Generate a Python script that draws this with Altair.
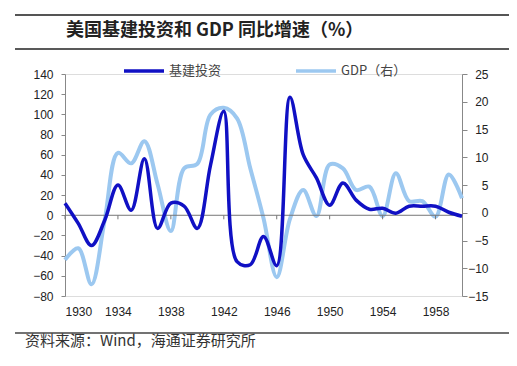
import altair as alt
import pandas as pd

years = list(range(1930, 1961))
infra = [12, -8, -30, -5, 30, 5, 56, -13, 12, 9, -13, 50, 103, -46, -49, -21,
         -50, 117, 60, 37, 10, 32, 15, 6, 7, 2, 9, 9, 9, 3, -1]
gdp = [-8.5, -6.4, -12.9, -1.3, 10.8, 8.9, 12.9, 5.1, -3.3, 8.0, 8.8, 17.7,
       18.9, 17.0, 8.0, -1.0, -11.6, -1.1, 4.1, -0.6, 8.7, 8.0, 4.1, 4.7,
       -0.6, 7.1, 2.1, 2.1, -0.7, 6.9, 2.6]
series_names = ["基建投资", "GDP（右）"]
series_colors = ["#1010C4", "#9CC8F0"]
x_ticks = [1930, 1934, 1938, 1942, 1946, 1950, 1954, 1958]
left_ticks = list(range(-80, 141, 20))
right_ticks = list(range(-15, 26, 5))
title_text = "美国基建投资和 GDP 同比增速（%）"
source_text = "资料来源：Wind，海通证券研究所"

df = pd.DataFrame({"year": years, "infra": infra, "gdp": gdp})
ticks_df = pd.DataFrame({"year": x_ticks, "z0": [0] * len(x_ticks), "z1": [-4] * len(x_ticks)})
zero_df = pd.DataFrame({"x0": [1930], "x1": [1960], "z": [0]})
one = pd.DataFrame({"a": [0]})

W, H = 397, 222
FONT = "Liberation Sans"
CJK = "Noto Sans CJK SC"
INTERP = "catmull-rom"

color_scale = alt.Scale(domain=series_names, range=series_colors)
color_enc = alt.Color("series:N", scale=color_scale, sort=series_names,
                      legend=alt.Legend(title=None, orient="none", legendX=57, legendY=-25,
                                        direction="horizontal", symbolType="stroke",
                                        symbolSize=1600, symbolStrokeWidth=3.5,
                                        labelFont=CJK, labelFontSize=13, labelColor="#444",
                                        columnPadding=67, labelOffset=3))

xscale = alt.Scale(domain=[1930, 1960], nice=False, zero=False)
x_axis = alt.Axis(values=x_ticks, format="d", title=None, orient="bottom",
                  domain=False, ticks=False, tickSize=0, labelPadding=10,
                  grid=False, labelFont=FONT, labelFontSize=12, labelColor="#222")
yleft = alt.Scale(domain=[-80, 140], nice=False, zero=False)
yleft_axis = alt.Axis(values=left_ticks, title=None, orient="left", grid=False,
                      domainColor="#888", tickColor="#888", tickSize=4,
                      labelPadding=8, labelFont=FONT, labelFontSize=12,
                      labelColor="#222")

infra_line = alt.Chart(df).transform_calculate(series="'基建投资'").mark_line(
    strokeWidth=3.5, interpolate=INTERP).encode(
    x=alt.X("year:Q", scale=xscale, axis=x_axis),
    y=alt.Y("infra:Q", scale=yleft, axis=yleft_axis),
    color=color_enc,
)

zero_line = alt.Chart(zero_df).mark_rule(color="#777", strokeWidth=1).encode(
    x=alt.X("x0:Q", scale=xscale, axis=x_axis), x2="x1:Q",
    y=alt.Y("z:Q", scale=yleft, axis=yleft_axis))
zero_ticks = alt.Chart(ticks_df).mark_rule(color="#777", strokeWidth=1).encode(
    x=alt.X("year:Q", scale=xscale, axis=x_axis),
    y=alt.Y("z0:Q", scale=yleft, axis=yleft_axis), y2="z1:Q")

infra_group = alt.layer(zero_line, zero_ticks, infra_line)

gdp_line = alt.Chart(df).transform_calculate(series="'GDP（右）'").mark_line(
    strokeWidth=4, interpolate=INTERP).encode(
    x=alt.X("year:Q", scale=xscale, axis=x_axis),
    y=alt.Y("gdp:Q", scale=alt.Scale(domain=[-15, 25], nice=False, zero=False),
            axis=alt.Axis(values=right_ticks, title=None, orient="right", grid=False,
                          domainColor="#888", tickColor="#888", tickSize=5,
                          labelPadding=21, labelAlign="right", labelFont=FONT,
                          labelFontSize=12, labelColor="#222")),
    color=color_enc,
)

lines = alt.layer(gdp_line, infra_group).resolve_scale(y="independent")

rule_top = alt.Chart(one).mark_rule(color="#555", strokeWidth=2).encode(
    x=alt.value(-50), x2=alt.value(448), y=alt.value(-59), y2=alt.value(-59))
rule_mid = alt.Chart(one).mark_rule(color="#222", strokeWidth=1.3).encode(
    x=alt.value(-50), x2=alt.value(448), y=alt.value(-25))
rule_bot = alt.Chart(one).mark_rule(color="#444", strokeWidth=1.3).encode(
    x=alt.value(-50), x2=alt.value(448), y=alt.value(259))
title = alt.Chart(one).mark_text(text=title_text, font=CJK, fontSize=18, fontWeight="bold",
                                 align="left", baseline="middle", color="#222").encode(
    x=alt.value(1), y=alt.value(-43))
source = alt.Chart(one).mark_text(text=source_text, font=CJK, fontSize=15,
                                  align="left", baseline="middle", color="#333").encode(
    x=alt.value(-40), y=alt.value(267))

chart = alt.layer(lines, rule_top, rule_mid, rule_bot, title, source).properties(
    width=W, height=H,
    autosize=alt.AutoSizeParams(type="none"),
    padding={"left": 57, "top": 66, "right": 47, "bottom": 62},
).configure_view(stroke=None).configure(background="white")

chart.save("out.html", embed_options={"renderer": "svg", "actions": False})
